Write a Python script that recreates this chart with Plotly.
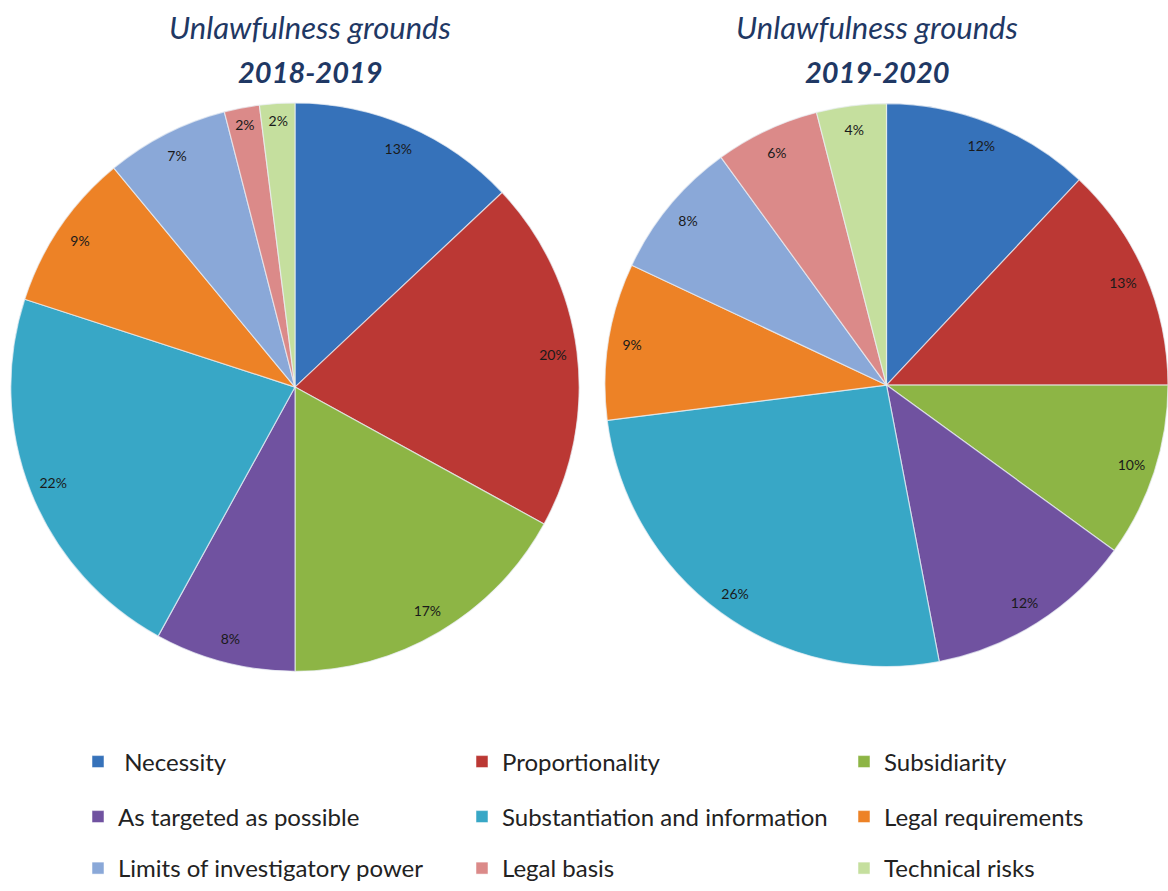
import plotly.graph_objects as go

categories = [" Necessity", "Proportionality", "Subsidiarity",
              "As targeted as possible", "Substantiation and information", "Legal requirements",
              "Limits of investigatory power", "Legal basis", "Technical risks"]
values_2018_2019 = [13, 20, 17, 8, 22, 9, 7, 2, 2]
values_2019_2020 = [12, 13, 10, 12, 26, 9, 8, 6, 4]
colors = ["#3672BA", "#BB3834", "#8DB545", "#7052A0", "#38A7C6",
          "#ED8226", "#8AA8D8", "#DB8A89", "#C5DF9E"]
titles = ["Unlawfulness grounds", "Unlawfulness grounds"]
periods = ["2018-2019", "2019-2020"]

W, H = 1168, 891
FONT = "Lato, sans-serif"
fig = go.Figure()

domains = [dict(x=[10 / W, 580 / W], y=[1 - 672 / H, 1 - 103 / H]),
           dict(x=[605 / W, 1.0], y=[1 - 668 / H, 1 - 103 / H])]

for vals, dom in zip([values_2018_2019, values_2019_2020], domains):
    # coloured slices
    fig.add_trace(go.Pie(
        values=vals, labels=categories, sort=False, direction="clockwise", rotation=0,
        marker=dict(colors=colors, line=dict(color="rgba(235,240,245,0.7)", width=1.2)),
        textinfo="none", showlegend=False, hoverinfo="label+percent", domain=dom))
    # transparent ring carrying the percentage labels near the outer edge
    fig.add_trace(go.Pie(
        values=vals, labels=categories, sort=False, direction="clockwise", rotation=0,
        hole=0.83,
        marker=dict(colors=["rgba(0,0,0,0)"] * len(vals), line=dict(width=0)),
        texttemplate="%{value}%", textposition="inside", insidetextorientation="horizontal",
        textfont=dict(family=FONT, size=14, color="#1a1a1a"),
        showlegend=False, hoverinfo="skip", domain=dom))

# legend entries: one small legend per entry, arranged 3 x 3
col_x = [78, 462, 844]
row_y = [762, 817, 869]
for i, (cat, col) in enumerate(zip(categories, colors)):
    name = "legend" if i == 0 else f"legend{i + 1}"
    fig.add_trace(go.Scatter(x=[None], y=[None], mode="markers", name=cat,
                             marker=dict(symbol="square", size=12, color=col,
                                         line=dict(color="rgba(255,255,255,0.5)", width=1)),
                             legend=name, hoverinfo="skip"))
    fig.update_layout({name: dict(
        x=col_x[i % 3] / W, y=1 - row_y[i // 3] / H, xanchor="left", yanchor="middle",
        font=dict(family=FONT, size=24, color="#222222"),
        bgcolor="rgba(0,0,0,0)", itemclick=False, itemdoubleclick=False)})

title_x = [310 / W, 877 / W]
for tx, t, p in zip(title_x, titles, periods):
    fig.add_annotation(x=tx, y=1 - 27 / H, xref="paper", yref="paper", showarrow=False,
                       xanchor="center", yanchor="middle",
                       text=f"<i>{t}</i>", font=dict(family=FONT, size=31, color="#1F3864"))
    fig.add_annotation(x=tx, y=1 - 72 / H, xref="paper", yref="paper", showarrow=False,
                       xanchor="center", yanchor="middle",
                       text=f"<b><i>{p}</i></b>", font=dict(family=FONT, size=29, color="#1F3864"))

fig.update_layout(
    width=W, height=H, margin=dict(l=0, r=0, t=0, b=0),
    paper_bgcolor="white", plot_bgcolor="white",
    xaxis=dict(visible=False), yaxis=dict(visible=False),
)
fig.write_html("out.html")
